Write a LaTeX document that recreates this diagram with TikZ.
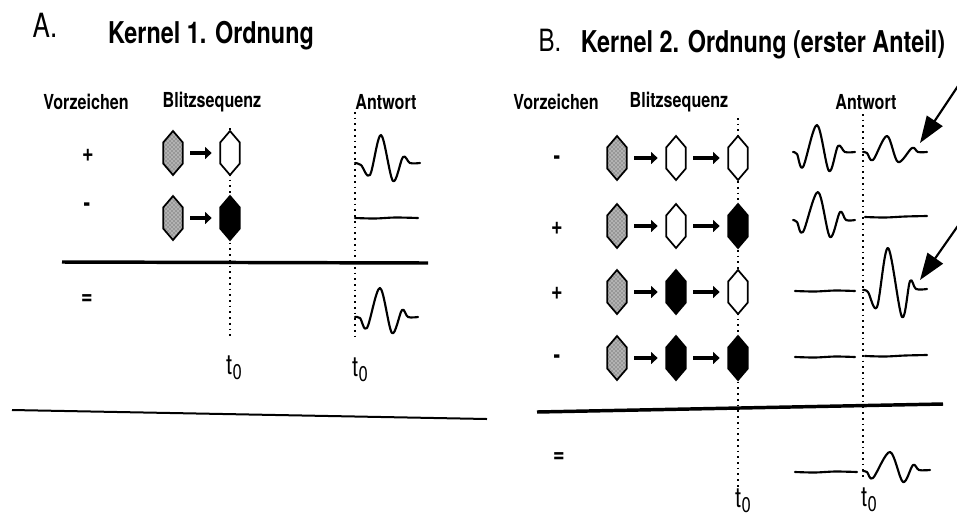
\documentclass[tikz,border=0pt]{standalone}
\usepackage{fontspec}
\setmainfont{TeX Gyre Heros}[FakeStretch=0.78]
\usetikzlibrary{arrows.meta,patterns}
\tikzset{
 hexbox/.style={minimum width=14.5pt,minimum height=33pt,inner sep=0pt,outer sep=0pt},
 hexgray/.style={draw=black,line width=1.3pt,preaction={fill=black!30},pattern=crosshatch dots,pattern color=black!75},
 hexwhite/.style={draw=black,line width=1.3pt,fill=white},
 hexblack/.style={draw=black,line width=1.3pt,fill=black},
 flash/.style={line width=3pt,-{Triangle[length=5pt,width=9pt]},shorten <=5.5pt,shorten >=6.5pt},
 guide/.style={line width=1.1pt,dash pattern=on 1.3pt off 3pt},
 wave/.style={line width=1.6pt,line join=round,line cap=round},
 sepline/.style={line width=2.6pt},
 titletext/.style={font=\fontsize{22.5}{26}\selectfont\bfseries},
 headtext/.style={font=\fontsize{15.5}{18}\selectfont\bfseries},
 signtext/.style={font=\fontsize{19}{20}\selectfont\bfseries},
 tlab/.style={font=\fontsize{21}{22}\selectfont},
 pointer/.style={line width=1.6pt,-{Triangle[length=20pt,width=14pt]}},
}
\newcommand{\hexnode}[3]{%
 \node[hexbox] (#1) at #2 {};
 \draw[#3] (#1.north) -- ([yshift=-8.5pt]#1.north east) -- ([yshift=8.5pt]#1.south east) -- (#1.south) -- ([yshift=8.5pt]#1.south west) -- ([yshift=-8.5pt]#1.north west) -- cycle;}
\newcommand{\tnull}{t\kern0.3pt\raisebox{-0.35ex}{\fontsize{16}{16}\selectfont 0}}
\begin{document}
\begin{tikzpicture}[x=0.75pt,y=-0.75pt]
\useasboundingbox (0,0) rectangle (957,519);
% ---------- Panel A ----------
\node[font=\fontsize{25}{28}\selectfont] (tA) at (45,25) {A.};
\node[titletext] (kA) at (211,36) {Kernel 1. Ordnung};
\node[headtext] (vA) at (86,102) {Vorzeichen};
\node[headtext] (bA) at (212,102) {Blitzsequenz};
\node[headtext] (aA) at (386,102) {Antwort};
% guides
\coordinate (gA1t) at (230,128); \coordinate (gA1b) at (230,340);
\coordinate (gA2t) at (355,112); \coordinate (gA2b) at (355,340);
\draw[guide] (gA1t) -- (gA1b);
\draw[guide] (gA2t) -- (gA2b);
% rows
\node[signtext] (sA1) at (88,155) {+};
\node[signtext] (sA2) at (87,207) {-};
\hexnode{a11}{(173,153)}{hexgray}
\hexnode{a12}{(230,153)}{hexwhite}
\hexnode{a21}{(173,218)}{hexgray}
\hexnode{a22}{(230,218)}{hexblack}
\draw[flash] (a11) -- (a12);
\draw[flash] (a21) -- (a22);
\draw[wave] plot[smooth,tension=0.55] coordinates {(355,163) (361,165) (370,175) (381,135) (393,181) (403,157) (410,163) (420,163)};
\draw[wave] plot[smooth,tension=0.5] coordinates {(355,218) (375,218.5) (395,217.5) (418,218)};
\coordinate (lA1) at (62,262); \coordinate (lA2) at (428,263);
\draw[sepline] (lA1) -- (lA2);
\node[signtext] (eA) at (87,300) {=};
\draw[wave] plot[smooth,tension=0.55] coordinates {(355,317) (360,318) (367,328) (380,288) (392,333) (402,310) (408,317) (418,317)};
\node[tlab] (tA1) at (234,368) {\tnull};
\node[tlab] (tA2) at (360,370) {\tnull};
\coordinate (bl1) at (12,410); \coordinate (bl2) at (487,419);
\draw[line width=1.5pt] (bl1) -- (bl2);
% ---------- Panel B ----------
\node[font=\fontsize{23}{26}\selectfont] (tB) at (550,40) {B.};
\node[titletext] (kB) at (763,45) {Kernel 2. Ordnung (erster Anteil)};
\node[headtext] (vB) at (556,102) {Vorzeichen};
\node[headtext] (bB) at (679,102) {Blitzsequenz};
\node[headtext] (aB) at (866,102) {Antwort};
\coordinate (gB1t) at (738,118); \coordinate (gB1b) at (738,487);
\coordinate (gB2t) at (863,114); \coordinate (gB2b) at (863,480);
\draw[guide] (gB1t) -- (gB1b);
\draw[guide] (gB2t) -- (gB2b);
\node[signtext] (sB1) at (557,160) {-};
\node[signtext] (sB2) at (557,228) {+};
\node[signtext] (sB3) at (557,293) {+};
\node[signtext] (sB4) at (557,359) {-};
\hexnode{b11}{(617,158)}{hexgray}
\hexnode{b12}{(676,158)}{hexwhite}
\hexnode{b13}{(738,158)}{hexwhite}
\hexnode{b21}{(617,226)}{hexgray}
\hexnode{b22}{(676,226)}{hexwhite}
\hexnode{b23}{(738,226)}{hexblack}
\hexnode{b31}{(617,292)}{hexgray}
\hexnode{b32}{(676,292)}{hexblack}
\hexnode{b33}{(738,292)}{hexwhite}
\hexnode{b41}{(617,358)}{hexgray}
\hexnode{b42}{(676,358)}{hexblack}
\hexnode{b43}{(738,358)}{hexblack}
\foreach \r in {1,2,3,4}{
 \draw[flash] (b\r1) -- (b\r2);
 \draw[flash] (b\r2) -- (b\r3);
}
% responses
\draw[wave] plot[smooth,tension=0.55] coordinates {(793,152) (797,154) (803,167) (817,125) (829,171) (838,146) (845,152) (855,152)};
\draw[wave] plot[smooth,tension=0.55] coordinates {(863,152) (867,153) (873,160) (887,136) (898,162) (912,148) (918,152) (927,152)};
\draw[wave] plot[smooth,tension=0.55] coordinates {(793,220) (797,222) (803,232) (818,192) (830,237) (840,212) (846,220) (855,220)};
\draw[wave] plot[smooth,tension=0.5] coordinates {(865,217) (885,217.5) (905,216.5) (927,216)};
\draw[wave] plot[smooth,tension=0.5] coordinates {(795,291) (815,291.5) (835,290.5) (855,291)};
\draw[wave] plot[smooth,tension=0.55] coordinates {(863,290) (868,292) (877,307) (888,248) (902,317) (910,281) (916,289) (927,289)};
\draw[wave] plot[smooth,tension=0.5] coordinates {(795,357) (815,357.5) (835,356.5) (855,357)};
\draw[wave] plot[smooth,tension=0.5] coordinates {(865,356) (885,356.5) (905,355.5) (927,355)};
\coordinate (lB1) at (537,412); \coordinate (lB2) at (943,404);
\draw[sepline] (lB1) -- (lB2);
\node[signtext] (eB) at (559,458) {=};
\draw[wave] plot[smooth,tension=0.5] coordinates {(795,472) (815,472.5) (835,471.5) (857,472)};
\draw[wave] plot[smooth,tension=0.55] coordinates {(863,471) (867,472) (873,478) (890,452) (903,482) (913,465) (919,470) (930,470)};
\node[tlab] (tB1) at (743,501) {\tnull};
\node[tlab] (tB2) at (869,500) {\tnull};
% pointer arrows
\coordinate (pa1) at (962,80); \coordinate (pa1t) at (920,143);
\coordinate (pa2) at (962,220); \coordinate (pa2t) at (920,280);
\draw[pointer] (pa1) -- (pa1t);
\draw[pointer] (pa2) -- (pa2t);
\end{tikzpicture}
\end{document}
